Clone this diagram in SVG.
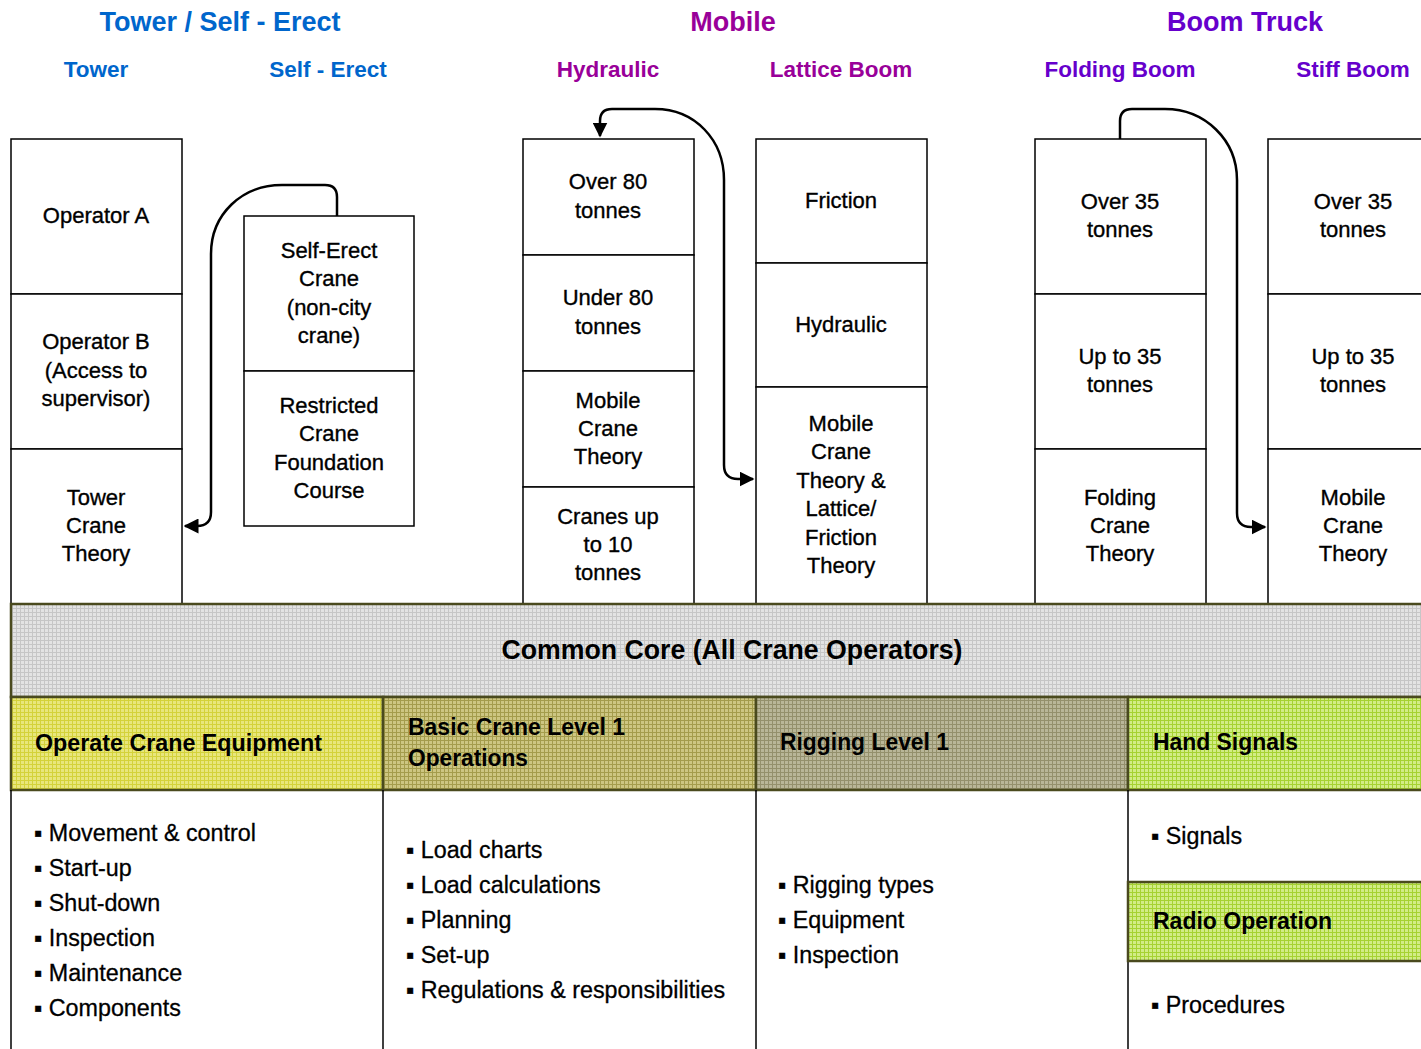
<svg xmlns="http://www.w3.org/2000/svg" width="1421" height="1049" viewBox="0 0 1421 1049">
<style>
.t{font-family:"Liberation Sans",Arial,sans-serif}
.box{fill:#fff;stroke:#000;stroke-width:1.5}
.bt{font-family:"Liberation Sans",Arial,sans-serif;font-size:22px;fill:#000;stroke:#000;stroke-width:0.35;text-anchor:middle}
.h1{font-family:"Liberation Sans",Arial,sans-serif;font-size:27px;font-weight:bold;text-anchor:middle}
.h2{font-family:"Liberation Sans",Arial,sans-serif;font-size:22.5px;font-weight:bold;text-anchor:middle}
.blue{fill:#0066cc}
.mag{fill:#990099}
.pur{fill:#6600cc}
.band{stroke:#4a4a1e;stroke-width:2.5}
.hd{font-family:"Liberation Sans",Arial,sans-serif;font-size:24px;font-weight:bold;fill:#000}
.li{font-family:"Liberation Sans","DejaVu Sans",Arial,sans-serif;font-size:23.3px;fill:#000;stroke:#000;stroke-width:0.3}
.vl{stroke:#000;stroke-width:1.5}
.conn{fill:none;stroke:#000;stroke-width:2.5}
</style>
<defs>
<pattern id="pGray" width="4" height="4" patternUnits="userSpaceOnUse"><rect width="4" height="4" fill="#e3e3e3"/><path d="M0 0.5H4M0.5 0V4" stroke="#c6c6c6" stroke-width="1"/></pattern>
<pattern id="pYel" width="4" height="4" patternUnits="userSpaceOnUse"><rect width="4" height="4" fill="#e8e67c"/><path d="M0 0.5H4M0.5 0V4" stroke="#d4d23a" stroke-width="1"/></pattern>
<pattern id="pOli" width="4" height="4" patternUnits="userSpaceOnUse"><rect width="4" height="4" fill="#cdc682"/><path d="M0 0.5H4M0.5 0V4" stroke="#a49c4c" stroke-width="1"/></pattern>
<pattern id="pRig" width="4" height="4" patternUnits="userSpaceOnUse"><rect width="4" height="4" fill="#b9b698"/><path d="M0 0.5H4M0.5 0V4" stroke="#94906c" stroke-width="1"/></pattern>
<pattern id="pGrn" width="4" height="4" patternUnits="userSpaceOnUse"><rect width="4" height="4" fill="#d2ec86"/><path d="M0 0.5H4M0.5 0V4" stroke="#a6d232" stroke-width="1"/></pattern>
<marker id="ah" viewBox="0 0 10 10" refX="9" refY="5" markerWidth="6" markerHeight="6" markerUnits="strokeWidth" orient="auto-start-reverse"><path d="M0 0L10 5L0 10z" fill="#000"/></marker>
</defs>
<rect width="1421" height="1049" fill="#fff"/>

<g id="headers">
<text class="h1 blue" x="220" y="31">Tower / Self - Erect</text>
<text class="h2 blue" x="96" y="77">Tower</text>
<text class="h2 blue" x="328" y="77">Self - Erect</text>
<text class="h1 mag" x="733" y="31">Mobile</text>
<text class="h2 mag" x="608" y="77">Hydraulic</text>
<text class="h2 mag" x="841" y="77">Lattice Boom</text>
<text class="h1 pur" x="1245" y="31">Boom Truck</text>
<text class="h2 pur" x="1120" y="77">Folding Boom</text>
<text class="h2 pur" x="1353" y="77">Stiff Boom</text>
</g>

<g id="tower">
<rect class="box" x="11" y="139" width="171" height="155"/>
<rect class="box" x="11" y="294" width="171" height="155"/>
<rect class="box" x="11" y="449" width="171" height="155"/>
<text class="bt" x="96" y="223">Operator A</text>
<text class="bt"><tspan x="96" y="349">Operator B</tspan><tspan x="96" y="378">(Access to</tspan><tspan x="96" y="406">supervisor)</tspan></text>
<text class="bt"><tspan x="96" y="505">Tower</tspan><tspan x="96" y="533">Crane</tspan><tspan x="96" y="561">Theory</tspan></text>
</g>

<g id="self-erect">
<rect class="box" x="244" y="216" width="170" height="155"/>
<rect class="box" x="244" y="371" width="170" height="155"/>
<text class="bt"><tspan x="329" y="258">Self-Erect</tspan><tspan x="329" y="286">Crane</tspan><tspan x="329" y="315">(non-city</tspan><tspan x="329" y="343">crane)</tspan></text>
<text class="bt"><tspan x="329" y="413">Restricted</tspan><tspan x="329" y="441">Crane</tspan><tspan x="329" y="470">Foundation</tspan><tspan x="329" y="498">Course</tspan></text>
</g>

<g id="hydraulic">
<rect class="box" x="523" y="139" width="171" height="116"/>
<rect class="box" x="523" y="255" width="171" height="116"/>
<rect class="box" x="523" y="371" width="171" height="116"/>
<rect class="box" x="523" y="487" width="171" height="117"/>
<text class="bt"><tspan x="608" y="189">Over 80</tspan><tspan x="608" y="218">tonnes</tspan></text>
<text class="bt"><tspan x="608" y="305">Under 80</tspan><tspan x="608" y="334">tonnes</tspan></text>
<text class="bt"><tspan x="608" y="408">Mobile</tspan><tspan x="608" y="436">Crane</tspan><tspan x="608" y="464">Theory</tspan></text>
<text class="bt"><tspan x="608" y="524">Cranes up</tspan><tspan x="608" y="552">to 10</tspan><tspan x="608" y="580">tonnes</tspan></text>
</g>

<g id="lattice">
<rect class="box" x="756" y="139" width="171" height="124"/>
<rect class="box" x="756" y="263" width="171" height="124"/>
<rect class="box" x="756" y="387" width="171" height="217"/>
<text class="bt" x="841" y="208">Friction</text>
<text class="bt" x="841" y="332">Hydraulic</text>
<text class="bt"><tspan x="841" y="431">Mobile</tspan><tspan x="841" y="459">Crane</tspan><tspan x="841" y="488">Theory &amp;</tspan><tspan x="841" y="516">Lattice/</tspan><tspan x="841" y="545">Friction</tspan><tspan x="841" y="573">Theory</tspan></text>
</g>

<g id="folding">
<rect class="box" x="1035" y="139" width="171" height="155"/>
<rect class="box" x="1035" y="294" width="171" height="155"/>
<rect class="box" x="1035" y="449" width="171" height="155"/>
<text class="bt"><tspan x="1120" y="209">Over 35</tspan><tspan x="1120" y="237">tonnes</tspan></text>
<text class="bt"><tspan x="1120" y="364">Up to 35</tspan><tspan x="1120" y="392">tonnes</tspan></text>
<text class="bt"><tspan x="1120" y="505">Folding</tspan><tspan x="1120" y="533">Crane</tspan><tspan x="1120" y="561">Theory</tspan></text>
</g>

<g id="stiff">
<rect class="box" x="1268" y="139" width="171" height="155"/>
<rect class="box" x="1268" y="294" width="171" height="155"/>
<rect class="box" x="1268" y="449" width="171" height="155"/>
<text class="bt"><tspan x="1353" y="209">Over 35</tspan><tspan x="1353" y="237">tonnes</tspan></text>
<text class="bt"><tspan x="1353" y="364">Up to 35</tspan><tspan x="1353" y="392">tonnes</tspan></text>
<text class="bt"><tspan x="1353" y="505">Mobile</tspan><tspan x="1353" y="533">Crane</tspan><tspan x="1353" y="561">Theory</tspan></text>
</g>

<g id="connectors">
<path class="conn" d="M337 216V197Q337 185 325 185H282C242 185 211 214 211 254V512Q211 526 197 526H185" marker-end="url(#ah)"/>
<path class="conn" d="M600 136V121Q600 109 612 109H655C695 109 724 140 724 180V465Q724 479 738 479H753" marker-start="url(#ah)" marker-end="url(#ah)"/>
<path class="conn" d="M1120 139V121Q1120 109 1132 109H1165C1205 109 1237 140 1237 180V513Q1237 527 1251 527H1265" marker-end="url(#ah)"/>
</g>

<g id="common-core">
<rect class="band" x="11" y="604" width="1420" height="93" fill="url(#pGray)"/>
<text class="t" x="732" y="659" font-size="28" font-weight="bold" text-anchor="middle" textLength="461" lengthAdjust="spacingAndGlyphs">Common Core (All Crane Operators)</text>
</g>

<g id="operate-crane">
<rect class="band" x="11" y="697" width="372" height="93" fill="url(#pYel)"/>
<text class="hd" x="35" y="751" textLength="287" lengthAdjust="spacingAndGlyphs">Operate Crane Equipment</text>
<line class="vl" x1="11" y1="790" x2="11" y2="1049"/>
<text class="li"><tspan x="34" y="841">▪ Movement &amp; control</tspan><tspan x="34" y="876">▪ Start-up</tspan><tspan x="34" y="911">▪ Shut-down</tspan><tspan x="34" y="946">▪ Inspection</tspan><tspan x="34" y="981">▪ Maintenance</tspan><tspan x="34" y="1016">▪ Components</tspan></text>
</g>

<g id="basic-crane">
<rect class="band" x="383" y="697" width="373" height="93" fill="url(#pOli)"/>
<text class="hd"><tspan x="408" y="735" textLength="217" lengthAdjust="spacingAndGlyphs">Basic Crane Level 1</tspan><tspan x="408" y="766" textLength="120" lengthAdjust="spacingAndGlyphs">Operations</tspan></text>
<line class="vl" x1="383" y1="790" x2="383" y2="1049"/>
<text class="li"><tspan x="406" y="858">▪ Load charts</tspan><tspan x="406" y="893">▪ Load calculations</tspan><tspan x="406" y="928">▪ Planning</tspan><tspan x="406" y="963">▪ Set-up</tspan><tspan x="406" y="998">▪ Regulations &amp; responsibilities</tspan></text>
</g>

<g id="rigging">
<rect class="band" x="756" y="697" width="372" height="93" fill="url(#pRig)"/>
<text class="hd" x="780" y="750" textLength="169" lengthAdjust="spacingAndGlyphs">Rigging Level 1</text>
<line class="vl" x1="756" y1="790" x2="756" y2="1049"/>
<text class="li"><tspan x="778" y="893">▪ Rigging types</tspan><tspan x="778" y="928">▪ Equipment</tspan><tspan x="778" y="963">▪ Inspection</tspan></text>
</g>

<g id="hand-signals">
<rect class="band" x="1128" y="697" width="303" height="93" fill="url(#pGrn)"/>
<text class="hd" x="1153" y="750" textLength="145" lengthAdjust="spacingAndGlyphs">Hand Signals</text>
<line class="vl" x1="1128" y1="790" x2="1128" y2="1049"/>
<text class="li" x="1151" y="844">▪ Signals</text>
</g>

<g id="radio-operation">
<rect class="band" x="1128" y="882" width="303" height="79" fill="url(#pGrn)"/>
<text class="hd" x="1153" y="929" textLength="179" lengthAdjust="spacingAndGlyphs">Radio Operation</text>
<text class="li" x="1151" y="1013">▪ Procedures</text>
</g>
</svg>
